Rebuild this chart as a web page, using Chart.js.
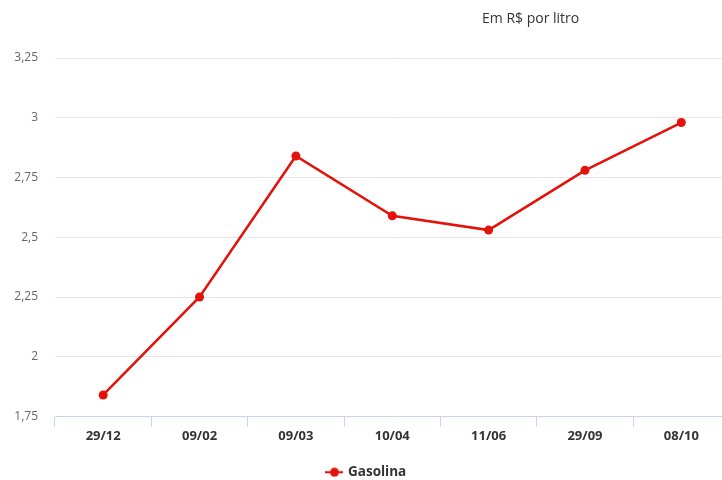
<!DOCTYPE html>
<html>
<head>
<meta charset="utf-8">
<script src="https://cdn.jsdelivr.net/npm/chart.js@4"></script>
<style>
  html, body { margin: 0; padding: 0; background: #fff; overflow: hidden; }
  #wrap { position: relative; width: 734px; height: 489px; }
  #unit { position: absolute; top: 8px; left: 482px; font: 14px "Open Sans", sans-serif; color: #333; }
</style>
</head>
<body>
<div id="wrap">
  <div id="unit">Em R$ por litro</div>
  <canvas id="chart"></canvas>
</div>
<script>
const labels = ['29/12', '09/02', '09/03', '10/04', '11/06', '29/09', '08/10'];
const gasolina = [1.84, 2.25, 2.84, 2.59, 2.53, 2.78, 2.98];
const yMin = 1.75, yMax = 3.25, yStep = 0.25;

const red = '#e3120b';

// marcador da legenda: linha com bolinha
const marker = document.createElement('canvas');
marker.width = 18; marker.height = 10;
const m = marker.getContext('2d');
m.strokeStyle = red; m.lineWidth = 2;
m.beginPath(); m.moveTo(0, 5); m.lineTo(18, 5); m.stroke();
m.fillStyle = red;
m.beginPath(); m.arc(9, 5, 4.5, 0, Math.PI * 2); m.fill();

Chart.defaults.font.family = '"Open Sans", sans-serif';

new Chart(document.getElementById('chart'), {
  type: 'line',
  data: {
    labels: labels,
    datasets: [{
      label: 'Gasolina',
      data: gasolina,
      borderColor: red,
      backgroundColor: red,
      borderWidth: 2.5,
      tension: 0,
      pointRadius: 4.5,
      pointBackgroundColor: red,
      pointBorderWidth: 0,
      pointStyle: 'circle'
    }]
  },
  options: {
    responsive: true,
    maintainAspectRatio: false,
    animation: false,
    layout: { padding: { top: 58, right: 0, left: 0, bottom: 0 } },
    scales: {
      x: {
        offset: true,
        grid: {
          offset: true,
          drawOnChartArea: false,
          tickLength: 10,
          color: '#ccd6eb'
        },
        border: { color: '#ccd6eb' },
        ticks: {
          color: '#333',
          padding: 2,
          font: { size: 13, weight: 'bold' }
        },
        afterFit(scale) { scale.height = 47; }
      },
      y: {
        min: yMin,
        max: yMax,
        grid: { color: '#e6e6e6', drawTicks: false },
        border: { display: false },
        ticks: {
          stepSize: yStep,
          color: '#666',
          padding: 17,
          font: { size: 12 },
          callback: v => String(v).replace('.', ',')
        },
        afterFit(scale) { scale.width = 55; }
      }
    },
    plugins: {
      legend: {
        position: 'bottom',
        labels: {
          usePointStyle: true,
          pointStyle: marker,
          color: '#333',
          padding: 2,
          font: { size: 13.5, weight: 'bold' }
        }
      },
      tooltip: { enabled: false }
    }
  }
});
</script>
</body>
</html>
